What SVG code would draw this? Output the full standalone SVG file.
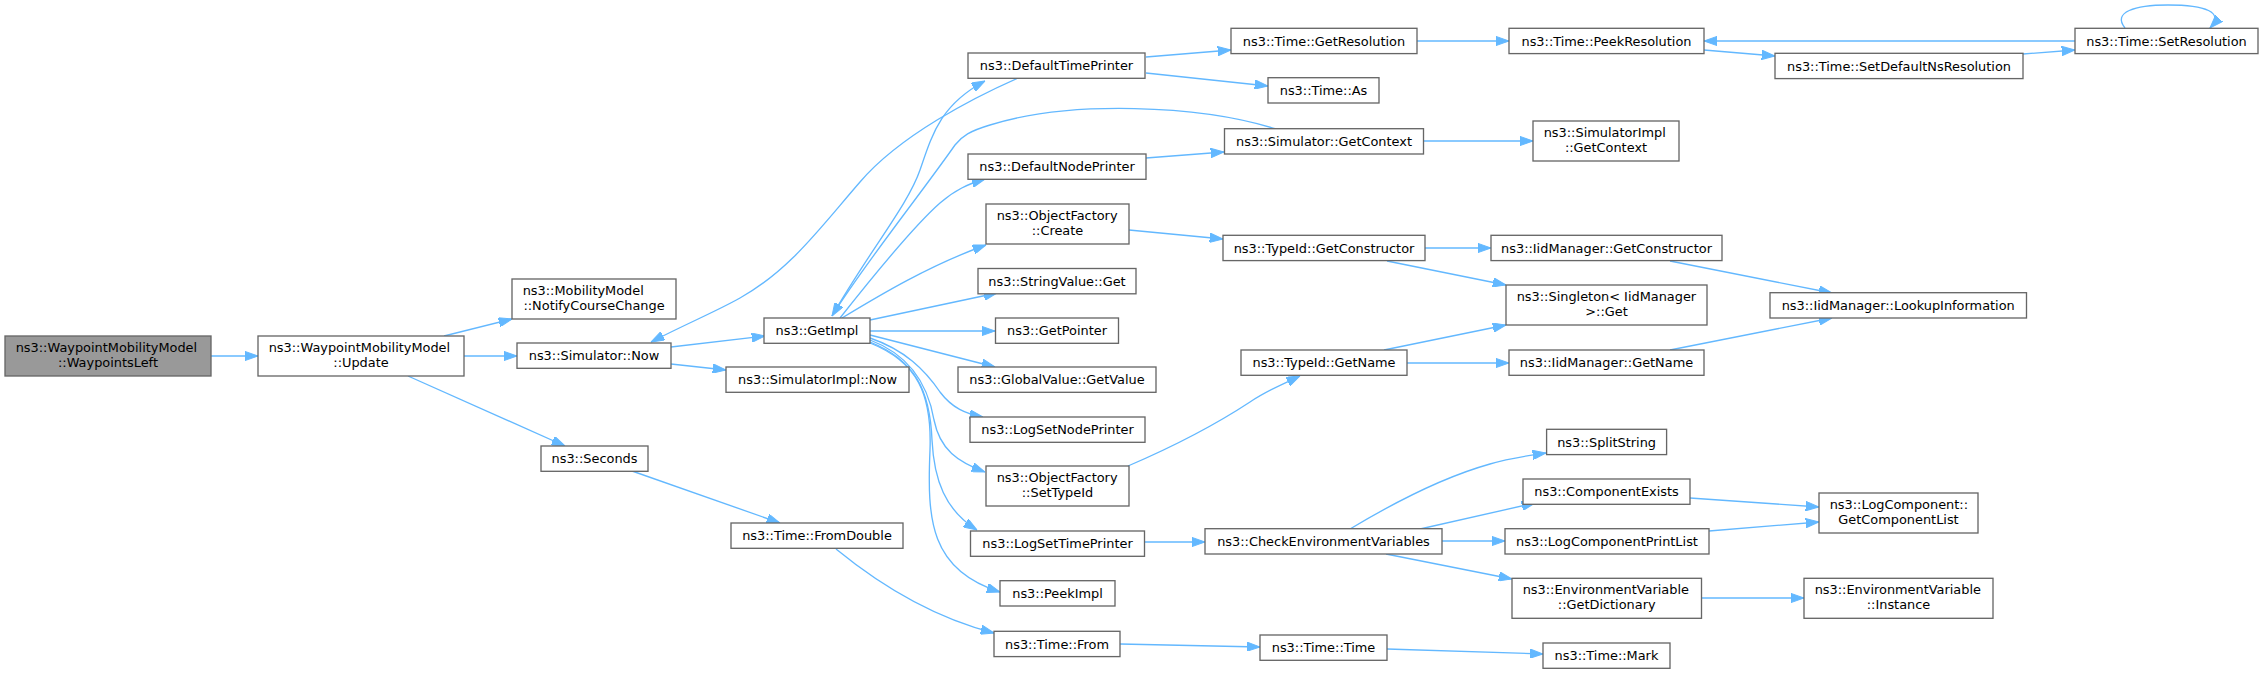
<svg xmlns="http://www.w3.org/2000/svg" width="2264" height="673" viewBox="0 0 2264 673">
<style>
.n rect{fill:#ffffff;stroke:#666666;stroke-width:1.33}
.root rect{fill:#999999}
text{font-family:"DejaVu Sans","Liberation Sans",sans-serif;font-size:12.9px;fill:#000000}
.m{text-anchor:middle}
.e path{fill:none;stroke:#63b8ff;stroke-width:1.33;marker-end:url(#a)}
</style>
<defs>
<marker id="a" markerUnits="userSpaceOnUse" viewBox="0 0 13.3 9.4" markerWidth="13.3" markerHeight="9.4" refX="13.3" refY="4.7" orient="auto">
<path d="M0,0 L13.3,4.7 L0,9.4 Z" fill="#63b8ff" stroke="#63b8ff" stroke-width="1"/>
</marker>
</defs>
<rect x="0" y="0" width="2264" height="673" fill="#ffffff"/>
<g id="edges" class="e">
<path d="M211,356 L258,356"/>
<path d="M444,336 L512,319"/>
<path d="M464,356 L517,356"/>
<path d="M408,376 L565,446"/>
<path d="M1018,78 C975,97 900,135 860,182 C820,228 790,270 740,298 C715,312 690,322 651,342"/>
<path d="M671,347 L765,336"/>
<path d="M671,364 L726,370"/>
<path d="M832,316 C870,250 908,205 920,170 C932,135 940,105 985,81"/>
<path d="M1276,129 C1200,105 1070,100 990,125 C970,131 962,136 955,145 C920,195 860,270 832,316"/>
<path d="M840,318 C870,280 915,225 940,203 C955,190 968,184 985,179"/>
<path d="M842,318 C880,295 930,265 986,245"/>
<path d="M870,320 L997,293"/>
<path d="M870,331 L995,331"/>
<path d="M870,335 L995,367"/>
<path d="M870,338 C905,350 925,370 940,392 C952,408 966,414 983,417"/>
<path d="M870,340 C910,355 928,385 934,420 C940,450 958,462 985,472"/>
<path d="M870,342 C915,360 930,390 932,440 C934,480 945,510 977,530"/>
<path d="M870,343 C918,362 932,395 930,450 C927,520 930,570 1000,592"/>
<path d="M1146,57 L1231,50"/>
<path d="M1146,73 L1268,86"/>
<path d="M1146,158 L1224,152"/>
<path d="M1129,230 L1223,239"/>
<path d="M1416,41 L1509,41"/>
<path d="M1704,50 L1775,56"/>
<path d="M2023,54 L2075,50"/>
<path d="M2075,41 L1704,41"/>
<path d="M2125,28 C2112,12 2135,5 2168,5 C2205,5 2225,12 2210,28"/>
<path d="M1423,141 L1533,141"/>
<path d="M1425,248 L1491,248"/>
<path d="M1387,261 L1506,285"/>
<path d="M1670,261 L1832,293"/>
<path d="M1384,350 L1506,325"/>
<path d="M1407,363 L1509,363"/>
<path d="M1670,350 L1832,318"/>
<path d="M1128,466 C1170,448 1215,425 1250,402 C1268,390 1285,383 1300,376"/>
<path d="M1144,542 L1205,542"/>
<path d="M1350,529 C1390,505 1440,478 1490,464 C1510,458 1525,456 1546,453"/>
<path d="M1420,529 L1535,503"/>
<path d="M1442,541 L1505,541"/>
<path d="M1386,554 L1512,579"/>
<path d="M1690,498 L1819,507"/>
<path d="M1709,531 L1819,522"/>
<path d="M1701,598 L1804,598"/>
<path d="M632,471 L780,523"/>
<path d="M836,549 C880,585 935,618 994,633"/>
<path d="M1120,644 L1260,647"/>
<path d="M1387,649 L1543,654"/>
</g>
<g id="n1" class="n root"><rect x="5" y="336" width="206" height="40"/><text x="15.7" y="352">ns3::WaypointMobilityModel</text><text class="m" x="108" y="367">::WaypointsLeft</text></g>
<g id="n2" class="n"><rect x="258" y="336" width="206" height="40"/><text x="268.7" y="352">ns3::WaypointMobilityModel</text><text class="m" x="361" y="367">::Update</text></g>
<g id="n3" class="n"><rect x="512" y="279" width="164" height="40"/><text x="522.7" y="295">ns3::MobilityModel</text><text class="m" x="594" y="310">::NotifyCourseChange</text></g>
<g id="n4" class="n"><rect x="517" y="343" width="154" height="25.3"/><text class="m" x="594" y="360.3">ns3::Simulator::Now</text></g>
<g id="n5" class="n"><rect x="541" y="446" width="107" height="25.3"/><text class="m" x="594.5" y="463.3">ns3::Seconds</text></g>
<g id="n6" class="n"><rect x="764" y="318" width="106" height="25.3"/><text class="m" x="817" y="335.3">ns3::GetImpl</text></g>
<g id="n7" class="n"><rect x="726" y="367" width="183" height="25.3"/><text class="m" x="817.5" y="384.3">ns3::SimulatorImpl::Now</text></g>
<g id="n8" class="n"><rect x="731" y="523" width="172" height="25.3"/><text class="m" x="817" y="540.3">ns3::Time::FromDouble</text></g>
<g id="n9" class="n"><rect x="968" y="53" width="177" height="25.3"/><text class="m" x="1056.5" y="70.3">ns3::DefaultTimePrinter</text></g>
<g id="n10" class="n"><rect x="968" y="154" width="178" height="25.3"/><text class="m" x="1057" y="171.3">ns3::DefaultNodePrinter</text></g>
<g id="n11" class="n"><rect x="986" y="204" width="143" height="40"/><text x="996.7" y="220">ns3::ObjectFactory</text><text class="m" x="1057.5" y="235">::Create</text></g>
<g id="n12" class="n"><rect x="978" y="268.5" width="158" height="25.3"/><text class="m" x="1057" y="285.8">ns3::StringValue::Get</text></g>
<g id="n13" class="n"><rect x="995.5" y="318" width="123" height="25.3"/><text class="m" x="1057" y="335.3">ns3::GetPointer</text></g>
<g id="n14" class="n"><rect x="958" y="367" width="198" height="25.3"/><text class="m" x="1057" y="384.3">ns3::GlobalValue::GetValue</text></g>
<g id="n15" class="n"><rect x="970" y="417" width="175" height="25.3"/><text class="m" x="1057.5" y="434.3">ns3::LogSetNodePrinter</text></g>
<g id="n16" class="n"><rect x="986" y="466" width="143" height="40"/><text x="996.7" y="482">ns3::ObjectFactory</text><text class="m" x="1057.5" y="497">::SetTypeId</text></g>
<g id="n17" class="n"><rect x="970.5" y="531" width="174" height="25.3"/><text class="m" x="1057.5" y="548.3">ns3::LogSetTimePrinter</text></g>
<g id="n18" class="n"><rect x="1000" y="580.7" width="115" height="25.3"/><text class="m" x="1057.5" y="598">ns3::PeekImpl</text></g>
<g id="n19" class="n"><rect x="994" y="631.3" width="126" height="25.3"/><text class="m" x="1057" y="648.6">ns3::Time::From</text></g>
<g id="n20" class="n"><rect x="1231" y="28.3" width="186" height="25.3"/><text class="m" x="1324" y="45.6">ns3::Time::GetResolution</text></g>
<g id="n21" class="n"><rect x="1268" y="77.7" width="111" height="25.3"/><text class="m" x="1323.5" y="95">ns3::Time::As</text></g>
<g id="n22" class="n"><rect x="1224.5" y="128.7" width="199" height="25.3"/><text class="m" x="1324" y="146">ns3::Simulator::GetContext</text></g>
<g id="n23" class="n"><rect x="1223" y="235.3" width="202" height="25.3"/><text class="m" x="1324" y="252.6">ns3::TypeId::GetConstructor</text></g>
<g id="n24" class="n"><rect x="1241" y="350" width="166" height="25.3"/><text class="m" x="1324" y="367.3">ns3::TypeId::GetName</text></g>
<g id="n25" class="n"><rect x="1205" y="528.7" width="237" height="25.3"/><text class="m" x="1323.5" y="546">ns3::CheckEnvironmentVariables</text></g>
<g id="n26" class="n"><rect x="1260" y="635" width="127" height="25.3"/><text class="m" x="1323.5" y="652.3">ns3::Time::Time</text></g>
<g id="n27" class="n"><rect x="1509" y="28.3" width="195" height="25.3"/><text class="m" x="1606.5" y="45.6">ns3::Time::PeekResolution</text></g>
<g id="n28" class="n"><rect x="1533" y="121" width="146" height="40"/><text x="1543.7" y="137">ns3::SimulatorImpl</text><text class="m" x="1606" y="152">::GetContext</text></g>
<g id="n29" class="n"><rect x="1491" y="235.3" width="231" height="25.3"/><text class="m" x="1606.5" y="252.6">ns3::IidManager::GetConstructor</text></g>
<g id="n30" class="n"><rect x="1506" y="285" width="201" height="40"/><text x="1516.7" y="301">ns3::Singleton&lt; IidManager</text><text class="m" x="1606.5" y="316">&gt;::Get</text></g>
<g id="n31" class="n"><rect x="1509" y="350" width="195" height="25.3"/><text class="m" x="1606.5" y="367.3">ns3::IidManager::GetName</text></g>
<g id="n32" class="n"><rect x="1546.6" y="429.3" width="120" height="25.3"/><text class="m" x="1606.6" y="446.6">ns3::SplitString</text></g>
<g id="n33" class="n"><rect x="1523" y="479" width="167" height="25.3"/><text class="m" x="1606.5" y="496.3">ns3::ComponentExists</text></g>
<g id="n34" class="n"><rect x="1505" y="528.7" width="204" height="25.3"/><text class="m" x="1607" y="546">ns3::LogComponentPrintList</text></g>
<g id="n35" class="n"><rect x="1512" y="578.3" width="189.5" height="40"/><text x="1522.7" y="594.3">ns3::EnvironmentVariable</text><text class="m" x="1606.7" y="609.3">::GetDictionary</text></g>
<g id="n36" class="n"><rect x="1543" y="643" width="127" height="25.3"/><text class="m" x="1606.5" y="660.3">ns3::Time::Mark</text></g>
<g id="n37" class="n"><rect x="1775" y="53.3" width="248" height="25.3"/><text class="m" x="1899" y="70.6">ns3::Time::SetDefaultNsResolution</text></g>
<g id="n38" class="n"><rect x="1770" y="292.7" width="256.5" height="25.3"/><text class="m" x="1898.2" y="310">ns3::IidManager::LookupInformation</text></g>
<g id="n39" class="n"><rect x="1819" y="493" width="159" height="40"/><text x="1829.7" y="509">ns3::LogComponent::</text><text class="m" x="1898.5" y="524">GetComponentList</text></g>
<g id="n40" class="n"><rect x="1804" y="578.3" width="189" height="40"/><text x="1814.7" y="594.3">ns3::EnvironmentVariable</text><text class="m" x="1898.5" y="609.3">::Instance</text></g>
<g id="n41" class="n"><rect x="2075" y="28.3" width="183" height="25.3"/><text class="m" x="2166.5" y="45.6">ns3::Time::SetResolution</text></g>
</svg>
